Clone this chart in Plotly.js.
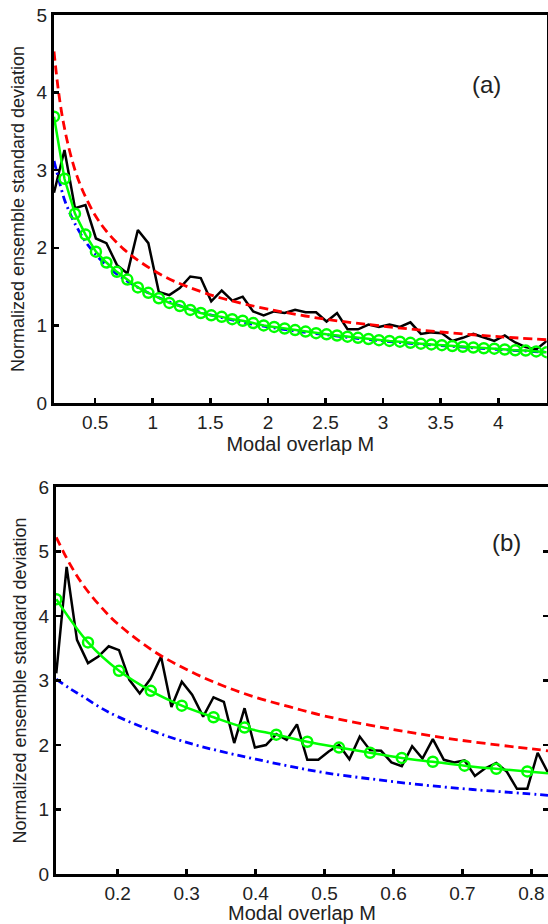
<!DOCTYPE html>
<html>
<head>
<meta charset="utf-8">
<script src="https://cdn.plot.ly/plotly-3.0.1.min.js"></script>
<style>html,body{margin:0;padding:0;background:#fff;overflow:hidden}#chart{width:548px;height:924px}</style>
</head>
<body>
<div id="chart"></div>
<script>
// ---------- Panel (a) ----------
const M_a = [0.143,0.234,0.325,0.416,0.507,0.598,0.689,0.780,0.871,0.962,1.053,1.144,1.235,1.326,1.417,1.508,1.599,1.690,1.781,1.872,1.963,2.054,2.145,2.236,2.327,2.418,2.509,2.600,2.691,2.782,2.873,2.964,3.055,3.146,3.237,3.328,3.419,3.510,3.601,3.692,3.783,3.874,3.965,4.056,4.147,4.238,4.329,4.420];
const sim_a = [2.71,3.26,2.51,2.55,2.12,2.06,1.78,1.67,2.23,2.06,1.43,1.39,1.48,1.63,1.61,1.31,1.45,1.32,1.37,1.18,1.13,1.18,1.16,1.20,1.17,1.17,1.05,1.16,0.95,0.95,1.01,0.98,1.01,0.98,1.04,0.89,0.91,0.90,0.80,0.84,0.89,0.84,0.80,0.87,0.78,0.72,0.69,0.80];
const green_a = [3.69,2.89,2.44,2.17,1.95,1.81,1.69,1.59,1.49,1.42,1.35,1.29,1.25,1.20,1.16,1.13,1.11,1.08,1.06,1.03,1.00,0.98,0.96,0.94,0.92,0.90,0.885,0.87,0.855,0.84,0.825,0.81,0.80,0.79,0.775,0.765,0.755,0.745,0.735,0.725,0.715,0.705,0.70,0.69,0.68,0.675,0.665,0.655];
const Mred_a = [0.143,0.18,0.22,0.27,0.33,0.4,0.5,0.6,0.75,0.9,1.1,1.3,1.6,2.0,2.5,3.0,3.5,4.0,4.42];
const red_a  = [4.53,4.04,3.65,3.30,2.98,2.71,2.42,2.21,1.98,1.81,1.63,1.50,1.35,1.21,1.08,0.99,0.915,0.855,0.815];
const Mblue_a = [0.143,0.19,0.234,0.28,0.325,0.416,0.507,0.6,0.69,0.87,1.05,1.3,1.6,2.0,2.5,3.0,3.5,4.0,4.42];
const blue_a  = [3.12,2.85,2.62,2.45,2.31,2.08,1.91,1.77,1.66,1.49,1.36,1.22,1.10,0.98,0.88,0.80,0.74,0.69,0.655];

// ---------- Panel (b) ----------
const M_b = [0.111,0.126,0.141,0.157,0.172,0.187,0.202,0.217,0.232,0.248,0.263,0.278,0.293,0.308,0.324,0.339,0.354,0.369,0.384,0.399,0.415,0.430,0.445,0.460,0.475,0.491,0.506,0.521,0.536,0.551,0.566,0.582,0.597,0.612,0.627,0.642,0.657,0.673,0.688,0.703,0.718,0.733,0.749,0.764,0.779,0.794,0.809,0.824];
const sim_b = [3.11,4.76,3.63,3.27,3.37,3.53,3.47,3.01,2.80,3.03,3.37,2.59,2.98,2.78,2.44,2.74,2.67,2.03,2.57,1.96,2.00,2.17,2.08,2.32,1.77,1.77,1.90,2.00,1.78,2.13,1.92,1.91,1.73,1.67,1.98,1.79,2.09,1.77,1.73,1.76,1.52,1.64,1.72,1.59,1.32,1.32,1.88,1.57];
const Mgreen_b = [0.111,0.157,0.202,0.248,0.293,0.339,0.384,0.430,0.475,0.521,0.566,0.612,0.657,0.703,0.749,0.794];
const green_b  = [4.26,3.59,3.15,2.84,2.61,2.43,2.27,2.16,2.05,1.96,1.88,1.80,1.74,1.68,1.63,1.59];
const Mgreen_b_end = 0.824, green_b_end = 1.56;
const Mred_b = [0.111,0.13,0.15,0.175,0.2,0.25,0.3,0.35,0.4,0.45,0.5,0.6,0.7,0.8,0.824];
const red_b  = [5.22,4.82,4.48,4.15,3.88,3.47,3.17,2.93,2.74,2.59,2.45,2.24,2.07,1.94,1.91];
const Mblue_b = [0.111,0.13,0.15,0.175,0.2,0.25,0.3,0.35,0.4,0.45,0.5,0.57,0.643,0.715,0.788,0.824];
const blue_b  = [3.02,2.88,2.75,2.58,2.44,2.22,2.04,1.90,1.78,1.67,1.57,1.47,1.38,1.31,1.25,1.22];

const xTitle = 'Modal overlap M';
const yTitle = 'Normalized ensemble standard deviation';

const W = 548, H = 924;
const FAM = 'Liberation Sans, Arial, sans-serif';
const TICKFONT = {family: FAM, size: 19, color: '#222'};
const XTFONT = {family: FAM, size: 20, color: '#222'};
const YTFONT = {family: FAM, size: 18, color: '#222'};
const RED = '#ff0000', BLUE = '#0000ff', GREEN = '#00ff00';
const redDash = '9px,5px', blueDash = '8px,4px,2px,4px';
const circ = {symbol: 'circle-open', size: 10, color: GREEN, line: {width: 2.5, color: GREEN}};

const traces = [
  {x: M_a, y: sim_a, xaxis: 'x', yaxis: 'y', mode: 'lines', line: {color: '#000', width: 2.5}},
  {x: Mred_a, y: red_a, xaxis: 'x', yaxis: 'y', mode: 'lines', line: {color: RED, width: 2.8, dash: redDash, shape: 'spline'}},
  {x: Mblue_a, y: blue_a, xaxis: 'x', yaxis: 'y', mode: 'lines', line: {color: BLUE, width: 2.8, dash: blueDash, shape: 'spline'}},
  {x: M_a, y: green_a, xaxis: 'x', yaxis: 'y', mode: 'lines+markers', line: {color: GREEN, width: 2.5}, marker: circ},

  {x: M_b, y: sim_b, xaxis: 'x2', yaxis: 'y2', mode: 'lines', line: {color: '#000', width: 2.5}},
  {x: Mred_b, y: red_b, xaxis: 'x2', yaxis: 'y2', mode: 'lines', line: {color: RED, width: 2.8, dash: redDash, shape: 'spline'}},
  {x: Mblue_b, y: blue_b, xaxis: 'x2', yaxis: 'y2', mode: 'lines', line: {color: BLUE, width: 2.8, dash: blueDash, shape: 'spline'}},
  {x: Mgreen_b.concat([Mgreen_b_end]), y: green_b.concat([green_b_end]), xaxis: 'x2', yaxis: 'y2', mode: 'lines',
   line: {color: GREEN, width: 2.5, shape: 'spline'}},
  {x: Mgreen_b, y: green_b, xaxis: 'x2', yaxis: 'y2', mode: 'markers', marker: circ}
];

const axCommon = {
  showgrid: false, zeroline: false, showline: true, linecolor: '#000', linewidth: 3,
  ticks: 'inside', ticklen: 5, tickwidth: 2.5, tickcolor: '#000',
  tickfont: TICKFONT, automargin: false
};

const layout = {
  width: W, height: H,
  margin: {l: 0, r: 0, t: 0, b: 0},
  paper_bgcolor: '#fff', plot_bgcolor: '#fff',
  showlegend: false,
  font: TICKFONT,
  xaxis: Object.assign({}, axCommon, {
    domain: [54/W, 546.7/W], anchor: 'y', range: [0.143, 4.42], dtick: 0.5, tick0: 0, mirror: true,
    title: {text: xTitle, font: XTFONT, standoff: 5}
  }),
  yaxis: Object.assign({}, axCommon, {
    domain: [1 - 403/H, 1 - 15/H], anchor: 'x', range: [0, 5], dtick: 1, mirror: true,
    title: {text: yTitle, font: YTFONT, standoff: 8}
  }),
  xaxis2: Object.assign({}, axCommon, {
    domain: [56/W, 1], anchor: 'y2', range: [0.1106, 0.824], dtick: 0.1, tick0: 0, mirror: true,
    title: {text: xTitle, font: XTFONT, standoff: 5}
  }),
  yaxis2: Object.assign({}, axCommon, {
    domain: [1 - 874/H, 1 - 487/H], anchor: 'x2', range: [0, 6], dtick: 1, mirror: 'ticks',
    title: {text: yTitle, font: YTFONT, standoff: 8}
  }),
  annotations: [
    {text: '(a)', xref: 'paper', yref: 'paper', x: 486/W, y: 1 - 85/H, showarrow: false,
     font: {family: FAM, size: 24, color: '#222'}, xanchor: 'center', yanchor: 'middle'},
    {text: '(b)', xref: 'paper', yref: 'paper', x: 506/W, y: 1 - 542/H, showarrow: false,
     font: {family: FAM, size: 24, color: '#222'}, xanchor: 'center', yanchor: 'middle'}
  ]
};

Plotly.newPlot('chart', traces, layout, {staticPlot: true, displayModeBar: false});
</script>
</body>
</html>
